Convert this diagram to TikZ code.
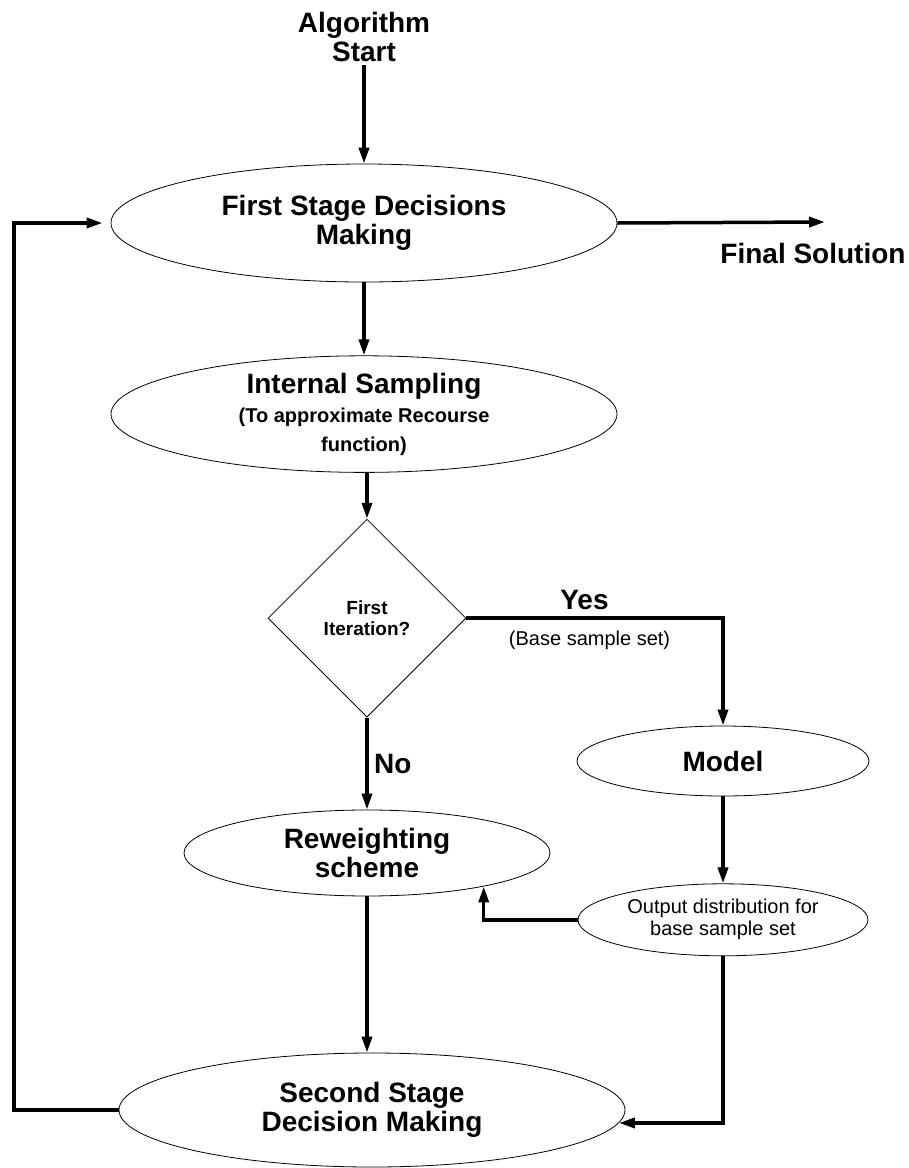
\documentclass[tikz,border=0pt]{standalone}
\usepackage{fontspec}
\setmainfont{Liberation Sans}
\usetikzlibrary{shapes.geometric, arrows.meta, positioning}
\newcommand{\bigbold}{\fontsize{28}{29}\selectfont\bfseries}
\newcommand{\smallbold}{\fontsize{20}{30}\selectfont\bfseries}
\newcommand{\plaintext}{\fontsize{20}{22}\selectfont}

\begin{document}
\begin{tikzpicture}[
  x=1pt, y=1pt,
  stage/.style={
    ellipse, draw, line width=0.8pt, inner sep=0pt,
    font=\bigbold, align=center
  },
  question/.style={
    diamond, draw, line width=0.8pt, inner sep=0pt,
    minimum width=198pt, minimum height=198pt,
    font=\fontsize{19}{21}\selectfont\bfseries, align=center
  },
  txt/.style={font=\bigbold, align=center},
  lbl/.style={font=\plaintext, align=center},
  arrow/.style={-{Triangle[length=16pt, width=10pt]}, line width=3.5pt}
]
\useasboundingbox (0,0) rectangle (909,-1168);

% Start and first stage
\node[txt] (start) at (364,-37) {Algorithm\\Start};
\node[stage, minimum width=506pt, minimum height=118pt] (first) at (364,-223)
  {First Stage Decisions\\Making};
\node[txt] (final) at (813,-253) {Final Solution};
\coordinate (finalend) at (825,-222);

% Sampling and decision
\node[stage, minimum width=506pt, minimum height=116pt, below=73pt of first] (sampling)
  {Internal Sampling\\{\smallbold (To approximate Recourse}\\{\smallbold function)}};
\node[question, below=46pt of sampling, xshift=3pt] (decision) {First\\Iteration?};

% Branches
\node[stage, minimum width=292pt, minimum height=70pt] (model) at (723,-761) {Model};
\node[stage, minimum width=290pt, minimum height=72pt, font=\plaintext, below=87pt of model] (output)
  {Output distribution for\\base sample set};
\node[stage, minimum width=366pt, minimum height=86pt, below=92pt of decision] (reweight)
  {Reweighting\\scheme};

% Second stage
\node[stage, minimum width=506pt, minimum height=114pt] (second) at (372,-1110)
  {Second Stage\\Decision Making};
\coordinate (loop) at (14,-1110);

% Main flow
\draw[arrow] (start) -- (first);
\draw[arrow] (first.east) -- (finalend);
\draw[arrow] (first) -- (sampling);
\draw[arrow] (sampling.south -| decision.north) -- (decision);
\draw[arrow] (decision.east) -| node[pos=0.23, above=3pt, txt] (yes) {Yes}
  node[pos=0.24, below=8pt, lbl] (base) {(Base sample set)} (model.north);
\draw[arrow] (decision.south) -- node[right=2pt, txt] (no) {No} (reweight.north);
\draw[arrow] (model.south) -- (model.south |- output.north);
\draw[arrow] (output.west) -| (reweight.-16);
\draw[arrow] (reweight.south) -- (reweight.south |- second.north);
\draw[arrow] (output.south) |- (second.-3);

% Loop back
\draw[arrow, shorten >=8pt] (second.west) -- (loop) |- (first.west);

\end{tikzpicture}
\end{document}
